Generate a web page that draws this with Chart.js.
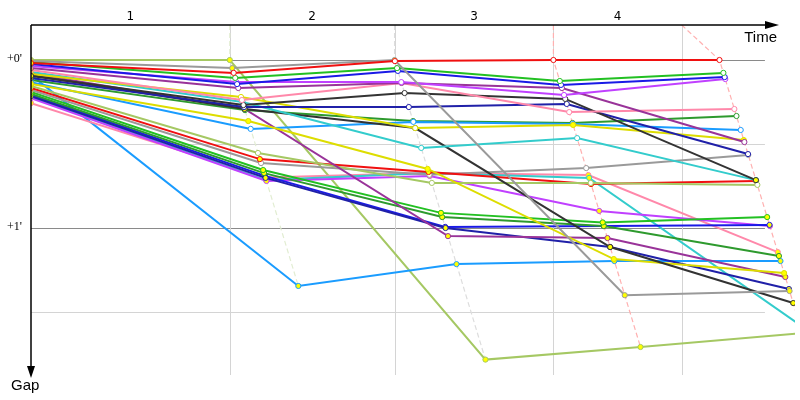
<!DOCTYPE html>
<html><head><meta charset="utf-8">
<script src="https://cdn.jsdelivr.net/npm/chart.js@4"></script>
<style>html,body{margin:0;padding:0;background:#fff}#wrap{width:800px;height:400px;position:relative}</style>
</head><body><div id="wrap"><canvas id="c" width="800" height="400"></canvas></div>
<script>
// ---- axis data ----
const lapLabels = ["1", "2", "3", "4"];
const leaderLapTimes = [0, 234, 428, 615, 810.5];   // s, leader elapsed time at end of lap 0..4
const gridTimes = [234, 428, 615, 766];             // s, lap boundary grid lines
const gapTicks = [0, 30, 60, 90];                   // s
const gapTickLabels = ["+0'", "", "+1'", ""];
const timeRange = [0, 899.4];
const gapRange = [-12.5, 112.5];

// ---- driver series: gap to leader (s) at end of lap 0..4 ----
const lime1 = [0, 0, 107, 102.5, 97.5];
const gray1 = [0.4, 2.9, 0, 84, 82.5];
const red1 = [1.1, 4.6, 0.4, 0, 0];
const green1 = [0.7, 6.4, 2.9, 7.5, 4.6];
const blue1 = [1.4, 8.6, 3.9, 8.9, 6.1];
const magenta1 = [2.1, 7.9, 7.9, 12.5, 6.8];
const purple1 = [2.9, 10, 8.2, 10, 29.3];
const pink1 = [3.6, 14.3, 8.2, 18.6, 17.5];
const yellow1 = [5, 13.2, 24.3, 23.2, 28.6];
const cyan1 = [4.3, 15, 31.4, 27.9, 42.9];
const black1 = [5.7, 16.1, 11.8, 13.9, 42.9];
const navy1 = [6.4, 16.8, 16.8, 15.7, 33.6];
const black2 = [5.4, 17.5, 24.3, 66.8, 86.8];
const yellow2 = [8.6, 21.8, 38.9, 71.1, 76.1];
const lightblue1 = [7.9, 24.6, 22.1, 22.9, 25];
const dgreen1 = [7.1, 17.9, 21.8, 22.5, 20];
const purple2 = [4.8, 17.5, 62.9, 63.6, 77.5];
const lime2 = [9.3, 33.2, 43.9, 43.9, 44.6];
const red2 = [10, 35.4, 40, 44.3, 43.2];
const gray2 = [10.7, 36.8, 41, 38.6, 33.9];
const green2 = [11.4, 39.3, 54.6, 58, 56.1];
const dgreen2 = [12.1, 40.4, 56.1, 59.3, 70];
const navy2 = [12.9, 42.1, 60, 66.8, 81.8];
const blue2 = [12.5, 41.4, 59.6, 59.3, 58.9];
const magenta2 = [13.6, 43.2, 41.4, 53.9, 59.3];
const cyan2 = [13.2, 42.9, 40.4, 42.1, 94.6];
const pink2 = [15.4, 42, 40.4, 41.1, 68.6];
const lightblue2 = [5.4, 80.7, 72.9, 71.8, 71.8];

// marker fill per lap: y = yellow, w = white
const drivers = [
  ["red1", red1, "#f01010", "ywwww"],
  ["gray1", gray1, "#9a9a9a", "yyyyy"],
  ["green1", green1, "#22c022", "ywwww"],
  ["blue1", blue1, "#1a1ae6", "ywwww"],
  ["magenta1", magenta1, "#c040ff", "ywwww"],
  ["purple1", purple1, "#993399", "ywwww"],
  ["pink1", pink1, "#ff88aa", "ywwww"],
  ["black1", black1, "#333333", "ywwwy"],
  ["navy1", navy1, "#2020a8", "ywwww"],
  ["yellow1", yellow1, "#dddd00", "ywwyy"],
  ["cyan1", cyan1, "#33cccc", "ywwww"],
  ["black2", black2, "#333333", "yyyyy"],
  ["yellow2", yellow2, "#dddd00", "yyyyy"],
  ["lightblue1", lightblue1, "#1a9cff", "ywwww"],
  ["dgreen1", dgreen1, "#2e9a2e", "ywwww"],
  ["purple2", purple2, "#993399", "yyyyy"],
  ["lime2", lime2, "#a5c863", "ywwww"],
  ["red2", red2, "#f01010", "yyyyy"],
  ["gray2", gray2, "#9a9a9a", "ywwww"],
  ["green2", green2, "#22c022", "yyyyy"],
  ["dgreen2", dgreen2, "#2e9a2e", "yyyyy"],
  ["navy2", navy2, "#2020a8", "yyyyy"],
  ["blue2", blue2, "#1a1ae6", "yyyyy"],
  ["magenta2", magenta2, "#c040ff", "yyyyy"],
  ["cyan2", cyan2, "#33cccc", "yyyyy"],
  ["pink2", pink2, "#ff88aa", "yyyyy"],
  ["lightblue2", lightblue2, "#1a9cff", "yyyyy"],
  ["lime1", lime1, "#a5c863", "yyyyy"]
];
const lapLineColors = ["#e2edd2", "#dddddd", "#ffb0b0", "#ffb0b0"];

// elapsed time of a driver = leader time at that lap + gap (lap 0: grid start at time 0)
function pointsOf(gaps) {
  return gaps.map((g, i) => ({ x: i === 0 ? 0 : leaderLapTimes[i] + g, y: g }));
}

const datasets = [];
drivers.forEach(([name, gaps, color, marks]) => {
  datasets.push({
    label: name,
    data: pointsOf(gaps),
    showLine: true,
    borderColor: color,
    borderWidth: 2,
    pointRadius: 2.6,
    pointBorderWidth: 1,
    pointBorderColor: color,
    pointBackgroundColor: marks.split("").map(m => m === "y" ? "#ffff00" : "#ffffff"),
    order: 0
  });
});
// dashed lap lines through every driver's mark of that lap
for (let lap = 1; lap <= 4; lap++) {
  const pts = drivers.map(d => ({ x: leaderLapTimes[lap] + d[1][lap], y: d[1][lap] }))
    .sort((a, b) => a.y - b.y);
  pts.unshift({ x: gridTimes[lap - 1], y: gapRange[0] });
  datasets.push({
    label: "lap" + lap,
    data: pts,
    showLine: true,
    borderColor: lapLineColors[lap - 1],
    borderWidth: 1.2,
    borderDash: [5, 3],
    pointRadius: 0,
    order: 5
  });
}

const decor = {
  id: "decor",
  beforeDatasetsDraw(chart) {
    const { ctx, chartArea: a, scales: { x, y } } = chart;
    ctx.save();
    ctx.lineWidth = 1;
    const xEnd = x.getPixelForValue(864);
    gapTicks.forEach((v, i) => {
      const py = Math.round(y.getPixelForValue(v)) + 0.5;
      ctx.strokeStyle = gapTickLabels[i] ? "#8a8a8a" : "#d4d4d4";
      ctx.beginPath(); ctx.moveTo(a.left, py); ctx.lineTo(xEnd, py); ctx.stroke();
    });
    ctx.strokeStyle = "#d4d4d4";
    gridTimes.forEach(t => {
      const px = Math.round(x.getPixelForValue(t)) + 0.5;
      ctx.beginPath(); ctx.moveTo(px, a.top); ctx.lineTo(px, a.bottom); ctx.stroke();
    });
    ctx.restore();
  },
  afterDatasetsDraw(chart) {
    const { ctx, chartArea: a, scales: { x, y } } = chart;
    ctx.save();
    ctx.strokeStyle = "#000"; ctx.fillStyle = "#000"; ctx.lineWidth = 1.5;
    // time axis (top)
    ctx.beginPath(); ctx.moveTo(a.left, a.top); ctx.lineTo(772, a.top); ctx.stroke();
    ctx.beginPath(); ctx.moveTo(779, a.top); ctx.lineTo(765, a.top - 4); ctx.lineTo(765, a.top + 4); ctx.closePath(); ctx.fill();
    // gap axis (left)
    ctx.beginPath(); ctx.moveTo(a.left, a.top); ctx.lineTo(a.left, a.bottom - 2); ctx.stroke();
    ctx.beginPath(); ctx.moveTo(a.left, a.bottom + 3); ctx.lineTo(a.left - 4, a.bottom - 9); ctx.lineTo(a.left + 4, a.bottom - 9); ctx.closePath(); ctx.fill();
    // labels
    ctx.font = "15px 'Liberation Sans', Arial, sans-serif";
    ctx.textAlign = "right"; ctx.textBaseline = "alphabetic";
    ctx.fillText("Time", 777, 42);
    ctx.textAlign = "left";
    ctx.fillText("Gap", 11, 390);
    ctx.font = "12px 'DejaVu Sans', sans-serif";
    ctx.textAlign = "center"; ctx.textBaseline = "middle";
    const bounds = [0, ...gridTimes];
    lapLabels.forEach((l, i) => {
      const px = (x.getPixelForValue(bounds[i]) + x.getPixelForValue(bounds[i + 1])) / 2;
      ctx.fillText(l, px, 17);
    });
    ctx.font = "12px 'Liberation Serif', serif";
    ctx.textAlign = "right";
    gapTicks.forEach((v, i) => {
      if (gapTickLabels[i]) ctx.fillText(gapTickLabels[i], 22, y.getPixelForValue(v) - 1);
    });
    ctx.restore();
  }
};

new Chart(document.getElementById("c"), {
  type: "scatter",
  data: { datasets },
  options: {
    responsive: false,
    animation: false,
    layout: { padding: { left: 31, top: 25, right: 0, bottom: 25 } },
    plugins: { legend: { display: false }, tooltip: { enabled: false } },
    scales: {
      x: { type: "linear", display: false, min: timeRange[0], max: timeRange[1] },
      y: { type: "linear", display: false, reverse: true, min: gapRange[0], max: gapRange[1] }
    }
  },
  plugins: [decor]
});
</script>
</body></html>
